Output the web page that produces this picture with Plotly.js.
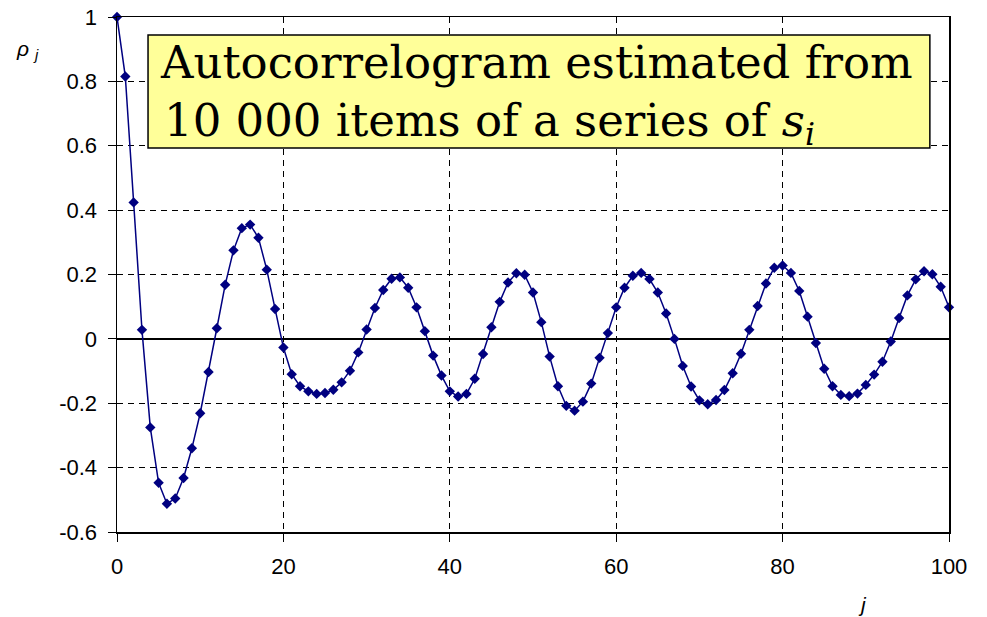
<!DOCTYPE html>
<html>
<head>
<meta charset="utf-8">
<script src="https://cdn.plot.ly/plotly-3.0.1.min.js"></script>
<style>html,body{margin:0;padding:0;background:#fff;}#chart{width:987px;height:617px;}</style>
</head>
<body>
<div id="chart"></div>
<script>
// lag j
const lags = Array.from({length: 101}, (_, k) => k);
// estimated autocorrelation rho_j
const rho = [
  1.000, 0.815, 0.424, 0.028, -0.275, -0.447, -0.512, -0.496, -0.432, -0.340,
  -0.231, -0.103, 0.033, 0.168, 0.275, 0.344, 0.355, 0.314, 0.215, 0.093,
  -0.027, -0.110, -0.147, -0.163, -0.171, -0.168, -0.158, -0.135, -0.099, -0.042,
  0.029, 0.096, 0.152, 0.187, 0.191, 0.159, 0.098, 0.024, -0.052, -0.114,
  -0.163, -0.179, -0.171, -0.124, -0.047, 0.036, 0.115, 0.175, 0.204, 0.199,
  0.144, 0.052, -0.055, -0.147, -0.208, -0.223, -0.195, -0.139, -0.059, 0.018,
  0.098, 0.159, 0.196, 0.205, 0.186, 0.144, 0.079, 0.000, -0.084, -0.148,
  -0.191, -0.203, -0.190, -0.159, -0.107, -0.046, 0.028, 0.102, 0.172, 0.221,
  0.228, 0.205, 0.149, 0.069, -0.013, -0.093, -0.147, -0.174, -0.178, -0.170,
  -0.143, -0.111, -0.071, -0.008, 0.065, 0.135, 0.185, 0.210, 0.201, 0.162,
  0.098
];
const yTickVals = [-0.6, -0.4, -0.2, 0, 0.2, 0.4, 0.6, 0.8, 1];
const yTickText = ["-0.6", "-0.4", "-0.2", "0", "0.2", "0.4", "0.6", "0.8", "1"];
const xTickVals = [0, 20, 40, 60, 80, 100];
const xTickText = ["0", "20", "40", "60", "80", "100"];
const titleLine1 = "Autocorrelogram estimated from";
const titleLine2 = "10 000 items of a series of <i>s</i><sub><i>i</i></sub>";

const tickFont = {family: "Liberation Sans, Arial, sans-serif", size: 22, color: "#000"};
const serif = "DejaVu Serif, serif";

const trace = {
  x: lags, y: rho, type: "scatter", mode: "lines+markers",
  line: {color: "#000080", width: 1.5},
  marker: {symbol: "diamond", size: 8, color: "#000080"},
  cliponaxis: false, hoverinfo: "skip"
};

const layout = {
  width: 987, height: 617,
  margin: {l: 117, r: 38, t: 17, b: 85, pad: 0},
  paper_bgcolor: "#fff", plot_bgcolor: "#fff",
  showlegend: false,
  xaxis: {
    range: [0, 100], tickvals: xTickVals, ticktext: xTickText,
    ticks: "outside", ticklen: 8, tickwidth: 1, tickcolor: "#000",
    ticklabelstandoff: 6,
    showline: true, linecolor: "#000", linewidth: 1.5, mirror: true,
    showgrid: true, gridcolor: "#000", gridwidth: 1, griddash: "6px,5px",
    zeroline: false, tickfont: tickFont, fixedrange: true
  },
  yaxis: {
    range: [-0.6, 1], tickvals: yTickVals, ticktext: yTickText,
    ticks: "outside", ticklen: 8, tickwidth: 1, tickcolor: "#000",
    ticklabelstandoff: 6,
    showline: true, linecolor: "#000", linewidth: 1.5, mirror: true,
    showgrid: true, gridcolor: "#000", gridwidth: 1, griddash: "6px,5px",
    zeroline: true, zerolinecolor: "#000", zerolinewidth: 1.5,
    tickfont: tickFont, fixedrange: true
  },
  shapes: [{
    type: "rect", xref: "paper", yref: "paper",
    x0: 0.0373, x1: 0.977, y0: 0.7456, y1: 0.965,
    fillcolor: "#FFFF99", line: {color: "#000", width: 1.5}, layer: "above"
  }],
  annotations: [
    {xref: "paper", yref: "paper", x: 0.049, y: 0.912, xanchor: "left", yanchor: "middle",
     text: titleLine1, showarrow: false, font: {family: serif, size: 45, color: "#000"}},
    {xref: "paper", yref: "paper", x: 0.054, y: 0.795, xanchor: "left", yanchor: "middle",
     text: titleLine2, showarrow: false, font: {family: serif, size: 45, color: "#000"}},
    {xref: "paper", yref: "paper", x: -0.107, y: 0.936, xanchor: "center", yanchor: "middle",
     text: "<i>ρ</i> <sub><i>j</i></sub>", showarrow: false, font: {family: "Liberation Sans, Arial, sans-serif", size: 21, color: "#000"}},
    {xref: "paper", yref: "paper", x: 0.8966, y: -0.14, xanchor: "center", yanchor: "middle",
     text: "<i>j</i>", showarrow: false, font: {family: "Liberation Sans, Arial, sans-serif", size: 21, color: "#000"}}
  ]
};

Plotly.newPlot("chart", [trace], layout, {displayModeBar: false, staticPlot: true});
</script>
</body>
</html>
